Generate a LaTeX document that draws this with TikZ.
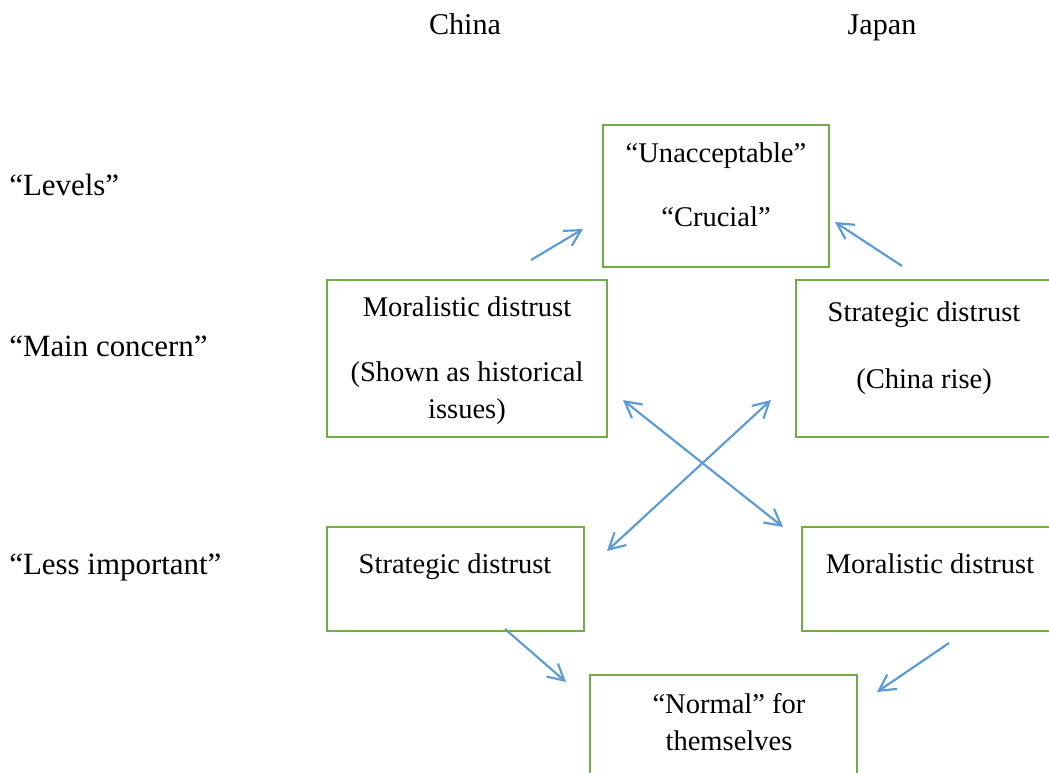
\documentclass[tikz,border=0pt]{standalone}
\usepackage{fontspec}
\setmainfont{Liberation Serif}
\usetikzlibrary{arrows.meta}
\definecolor{boxgreen}{HTML}{70AD47}
\definecolor{arrblue}{HTML}{5B9BD5}
\def\px{0.75pt}
\begin{document}
\begin{tikzpicture}[x=0.75pt,y=-0.75pt,
  lbl/.style={font=\fontsize{21.4}{26}\selectfont, inner sep=0pt, anchor=base},
  head/.style={font=\fontsize{22.6}{27}\selectfont, inner sep=0pt, anchor=base},
  side/.style={font=\fontsize{23.2}{28}\selectfont, inner sep=0pt, anchor=base west},
  box/.style={draw=boxgreen, line width=2pt, inner sep=0pt, rectangle},
  arr/.style={draw=arrblue, line width=1.6pt, -{Straight Barb[length=12pt,width=13pt,line width=1.6pt]}},
  darr/.style={draw=arrblue, line width=1.6pt, {Straight Barb[length=12pt,width=13pt,line width=1.6pt]}-{Straight Barb[length=12pt,width=13pt,line width=1.6pt]}}]
\clip (0,0) rectangle (1049,773);
\fill[white] (0,0) rectangle (1049,773);

% column headers
\node[head] (china) at (465,35) {China};
\node[head] (japan) at (882,35) {Japan};

% row labels
\node[side] (levels) at (9,196) {“Levels”};
\node[side] (main) at (9,357) {“Main concern”};
\node[side] (less) at (9,574) {“Less important”};

% boxes
\node[box, minimum width=226*\px, minimum height=142*\px] (top) at (716,196) {};
\node[box, minimum width=280*\px, minimum height=157*\px] (mdc) at (467,358.5) {};
\node[box, minimum width=258*\px, minimum height=157*\px] (sdj) at (925,358.5) {};
\node[box, minimum width=257*\px, minimum height=104*\px] (sdc) at (455.5,579) {};
\node[box, minimum width=256*\px, minimum height=104*\px] (mdj) at (930,579) {};
\node[box, minimum width=267*\px, minimum height=120*\px] (bot) at (723.5,735) {};

% box texts
\node[lbl] (t1) at (716,163) {“Unacceptable”};
\node[lbl] (t2) at (716,227) {“Crucial”};
\node[lbl] (t3) at (467,317) {Moralistic distrust};
\node[lbl] (t4) at (467,382) {(Shown as historical};
\node[lbl] (t5) at (467,418) {issues)};
\node[lbl] (t6) at (924,322) {Strategic distrust};
\node[lbl] (t7) at (924,388) {(China rise)};
\node[lbl] (t8) at (455,573) {Strategic distrust};
\node[lbl] (t9) at (930,573) {Moralistic distrust};
\node[lbl] (t10) at (729,713) {“Normal” for};
\node[lbl] (t11) at (729,750) {themselves};

% arrow end points
\coordinate (a1s) at (531,260);
\coordinate (a1e) at (583,229);
\coordinate (a2s) at (902,266);
\coordinate (a2e) at (835,222);
\coordinate (x1s) at (623,400);
\coordinate (x1e) at (783,527);
\coordinate (x2s) at (771,400);
\coordinate (x2e) at (607,551);
\coordinate (b1s) at (505,629);
\coordinate (b1e) at (566,682);
\coordinate (b2s) at (949,643);
\coordinate (b2e) at (877,692);

\draw[arr] (a1s) -- (a1e);
\draw[arr] (a2s) -- (a2e);
\draw[darr] (x1s) -- (x1e);
\draw[darr] (x2s) -- (x2e);
\draw[arr] (b1s) -- (b1e);
\draw[arr] (b2s) -- (b2e);
\end{tikzpicture}
\end{document}
